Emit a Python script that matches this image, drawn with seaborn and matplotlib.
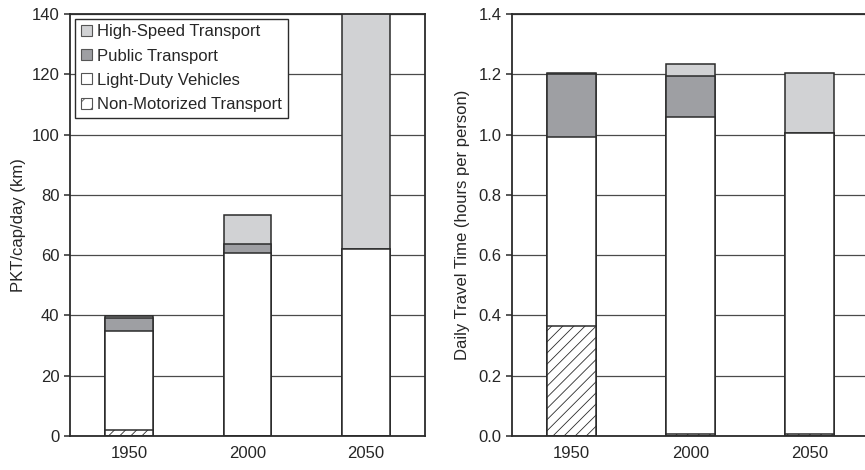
import numpy as np
import pandas as pd
import matplotlib
matplotlib.use("Agg")
import matplotlib.pyplot as plt
import seaborn as sns
from matplotlib.patches import Patch

sns.set_style("white")
plt.rcParams["font.family"] = ["Liberation Sans", "DejaVu Sans"]
plt.rcParams["hatch.linewidth"] = 0.6

years = ["1950", "2000", "2050"]
modes = ["Non-Motorized Transport", "Light-Duty Vehicles", "Public Transport", "High-Speed Transport"]

# passenger-km per capita per day, by mode
pkt_nmt = [2.1, 0.05, 0.03]
pkt_ldv = [32.8, 60.7, 62.1]
pkt_public = [4.4, 2.8, 0.0]
pkt_hst = [0.5, 9.7, 80.0]

# daily travel time (hours per person), by mode
time_nmt = [0.365, 0.008, 0.005]
time_ldv = [0.626, 1.049, 0.999]
time_public = [0.210, 0.137, 0.0]
time_hst = [0.003, 0.039, 0.199]

fill = {
    "Non-Motorized Transport": "white",
    "Light-Duty Vehicles": "white",
    "Public Transport": "#9e9fa3",
    "High-Speed Transport": "#d1d2d4",
}
edge = "#2b2b2b"
BAR_W = 0.405


def stacked(ax, layers, ymax, step):
    # cumulative tops, drawn from the tallest layer down so each covers the next
    tops = np.cumsum(np.array(layers), axis=0)
    for i in range(len(modes) - 1, -1, -1):
        df = pd.DataFrame({"year": years, "value": tops[i]})
        before = len(ax.patches)
        sns.barplot(data=df, x="year", y="value", order=years, ax=ax,
                    color=fill[modes[i]], width=BAR_W, edgecolor=edge,
                    linewidth=1.1, saturation=1, errorbar=None, zorder=2)
        for p in ax.patches[before:]:
            p.set_facecolor(fill[modes[i]])
            if modes[i] == "Non-Motorized Transport":
                p.set_hatch("///")
    ax.set_xlim(-0.5, 2.5)
    ax.set_ylim(0, ymax)
    ax.set_yticks(np.arange(0, ymax + step / 2, step))
    ax.yaxis.grid(True, color="#4a4a4a", linewidth=0.9, zorder=0)
    ax.set_axisbelow(True)
    ax.set_xlabel("")
    ax.set_xticks([0, 1, 2])
    ax.set_xticklabels(years)
    ax.set_xticks([0.5, 1.5], minor=True)
    ax.tick_params(axis="x", which="major", length=0, labelsize=12, pad=7)
    ax.tick_params(axis="x", which="minor", length=5, width=1.1, color=edge, direction="out")
    ax.tick_params(axis="y", length=4, width=1.1, color=edge, direction="out",
                   labelsize=12, left=True)
    for s in ax.spines.values():
        s.set_color(edge)
        s.set_linewidth(1.3)
        s.set_visible(True)


fig = plt.figure(figsize=(8.65, 4.70), dpi=100)
ax1 = fig.add_axes([70 / 865, 34 / 470, 355 / 865, 422 / 470])
ax2 = fig.add_axes([512 / 865, 34 / 470, 357 / 865, 422 / 470])

stacked(ax1, [pkt_nmt, pkt_ldv, pkt_public, pkt_hst], 140, 20)
ax1.set_ylabel("PKT/cap/day (km)", fontsize=12, labelpad=4)
ax1.yaxis.set_major_formatter(matplotlib.ticker.FormatStrFormatter("%d"))

stacked(ax2, [time_nmt, time_ldv, time_public, time_hst], 1.4, 0.2)
ax2.set_ylabel("Daily Travel Time (hours per person)", fontsize=12, labelpad=6)
ax2.yaxis.set_major_formatter(matplotlib.ticker.FormatStrFormatter("%.1f"))

handles = []
for m in modes[::-1]:
    h = Patch(facecolor=fill[m], edgecolor="#555555", linewidth=0.8,
              hatch="//" if m == "Non-Motorized Transport" else None)
    handles.append(h)
leg = ax1.legend(handles, modes[::-1], loc="upper left", bbox_to_anchor=(0.006, 0.997),
                 fontsize=12, frameon=True, fancybox=False, handlelength=0.65,
                 handleheight=0.65, handletextpad=0.3, labelspacing=0.55,
                 borderpad=0.35, borderaxespad=0.2)
leg.get_frame().set_edgecolor("#2b2b2b")
leg.get_frame().set_linewidth(1.0)
leg.get_frame().set_alpha(1)

fig.savefig("out.png", dpi=100)
